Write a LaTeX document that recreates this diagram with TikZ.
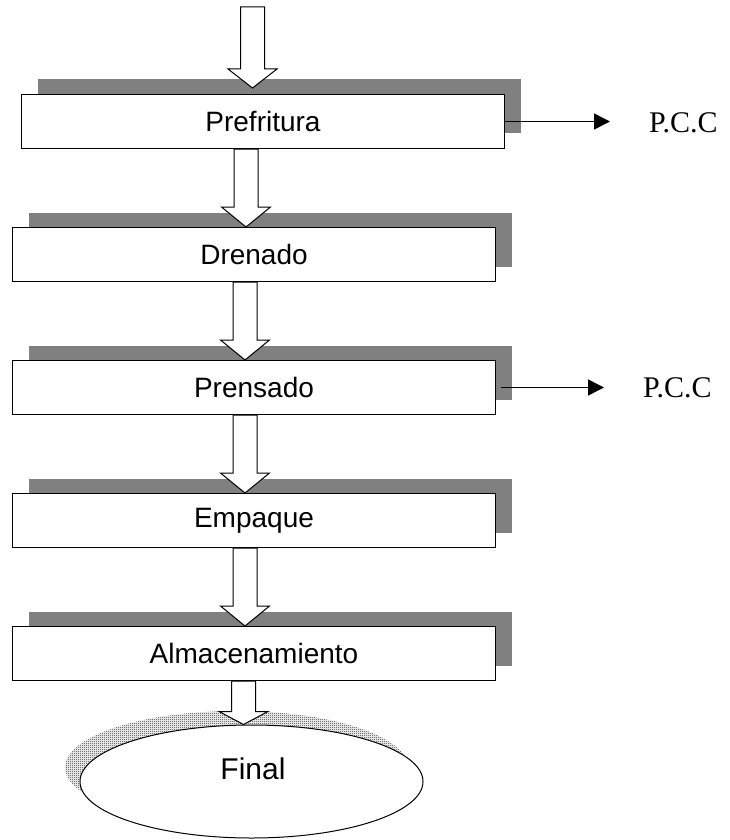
\documentclass[tikz,border=0pt]{standalone}
\usepackage{fontspec}
\setmainfont{Liberation Sans}
\newfontfamily\pccfont{Liberation Serif}
\usetikzlibrary{shapes.geometric,shadows,patterns,arrows.meta,calc}

% fine checker used for the terminal's shadow
\pgfdeclarepatternformonly{finechecker}{\pgfpointorigin}{\pgfqpoint{2pt}{2pt}}%
  {\pgfqpoint{2pt}{2pt}}{%
  \pgfpathrectangle{\pgfpointorigin}{\pgfqpoint{1pt}{1pt}}%
  \pgfpathrectangle{\pgfqpoint{1pt}{1pt}}{\pgfqpoint{1pt}{1pt}}%
  \pgfusepath{fill}}

\tikzset{
  stage/.style={draw, line width=1pt, fill=white, rectangle,
    minimum width=483pt, minimum height=54pt, inner sep=0pt,
    anchor=north west, font=\fontsize{28}{30}\selectfont,
    general shadow={fill=gray, shadow xshift=16pt, shadow yshift=15pt}},
  endstage/.style={ellipse, draw, line width=1pt, fill=white,
    minimum width=343pt, minimum height=113pt, inner sep=0pt,
    general shadow={pattern=finechecker, pattern color=black!85,
      shadow xshift=-15pt, shadow yshift=14pt}},
  blockarrow/.style={draw, line width=1pt, fill=white, line join=miter},
  pccarrow/.style={line width=1.5pt, -{Triangle[length=16pt,width=16pt]}},
  pcclabel/.style={font=\pccfont\fontsize{30}{32}\selectfont,
    anchor=west, inner sep=0pt},
}

% hollow block arrow: #1 centre x (pt), #2 start, #3 tip, #4 head length (pt)
\newcommand\flowarrow[4]{%
  \draw[blockarrow] let \p1=(#2), \p2=(#3) in
    (#1pt-12pt,\y1) -- (#1pt-12pt,\y2+#4pt) -- (#1pt-24.5pt,\y2+#4pt)
    -- (#1pt,\y2) -- (#1pt+24.5pt,\y2+#4pt) -- (#1pt+12pt,\y2+#4pt)
    -- (#1pt+12pt,\y1) -- cycle;}

\begin{document}
\begin{tikzpicture}[x=1pt,y=-1pt]
\useasboundingbox (0,0) rectangle (729,840);

% process steps
\node[stage] (pre)  at (21,94)  {Prefritura};
\node[stage] (dre)  at (12,227) {Drenado};
\node[stage] (pren) at (12,360) {Prensado};
\node[stage] (emp)  at (12,493) {Empaque};
\node[stage] (alm)  at (12,626) {Almacenamiento};

% terminal
\node[endstage] (fin) at (251.5,781.5) {};
\node[font=\fontsize{30}{32}\selectfont] (finlabel) at (253,769) {Final};

% critical control points
\node[pcclabel] (pcc1) at (649,123) {P.C.C};
\node[pcclabel] (pcc2) at (643,388) {P.C.C};

% flow arrows
\coordinate (feed) at (252.5,7);
\coordinate (feedtip) at (252.5,88);
\flowarrow{252.5}{feed}{feedtip}{19}
\flowarrow{246}{pre.south}{dre.north}{20}
\flowarrow{245}{dre.south}{pren.north}{20}
\flowarrow{245}{pren.south}{emp.north}{20}
\flowarrow{245}{emp.south}{alm.north}{20}
\flowarrow{243.5}{alm.south}{fin.north}{13}

\draw[pccarrow, shorten >=39pt] (pre.east) -- (pre.east -| pcc1.west);
\draw[pccarrow, shorten <=5pt, shorten >=39pt] (pren.east) -- (pren.east -| pcc2.west);
\end{tikzpicture}
\end{document}
